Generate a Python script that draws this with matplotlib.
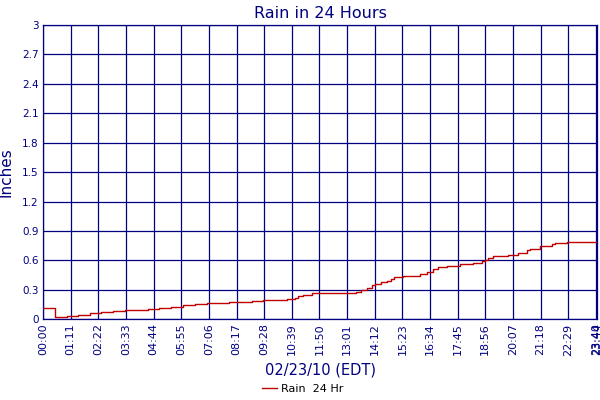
import matplotlib
matplotlib.use('Agg')
import matplotlib.pyplot as plt

# rain accumulation steps: minutes after midnight, inches
step_minutes = [0, 32, 62, 90, 120, 150, 180, 210, 270, 298, 328, 359, 390, 420,
                478, 538, 565, 627, 638, 647, 655, 668, 690, 805, 818, 831, 844,
                852, 867, 883, 893, 901, 925, 968, 985, 1002, 1015, 1037, 1071,
                1105, 1127, 1135, 1144, 1157, 1195, 1221, 1242, 1251, 1276, 1307,
                1315, 1345, 1424]
rain_inches = [0.12, 0.02, 0.03, 0.04, 0.06, 0.07, 0.08, 0.09, 0.10, 0.12, 0.13,
               0.15, 0.16, 0.165, 0.175, 0.185, 0.195, 0.205, 0.21, 0.22, 0.24,
               0.25, 0.265, 0.28, 0.30, 0.32, 0.35, 0.36, 0.375, 0.39, 0.41, 0.43,
               0.44, 0.465, 0.485, 0.515, 0.53, 0.545, 0.56, 0.575, 0.59, 0.605,
               0.62, 0.645, 0.66, 0.68, 0.705, 0.72, 0.75, 0.765, 0.775, 0.785,
               0.785]

x_tick_minutes = [0, 71, 142, 213, 284, 355, 426, 497, 568, 639, 710, 781, 852,
                  923, 994, 1065, 1136, 1207, 1278, 1349, 1420, 1424]
x_tick_labels = ['00:00', '01:11', '02:22', '03:33', '04:44', '05:55', '07:06',
                 '08:17', '09:28', '10:39', '11:50', '13:01', '14:12', '15:23',
                 '16:34', '17:45', '18:56', '20:07', '21:18', '22:29', '23:40',
                 '23:44']
y_ticks = [0, 0.3, 0.6, 0.9, 1.2, 1.5, 1.8, 2.1, 2.4, 2.7, 3]
y_tick_labels = ['0', '0.3', '0.6', '0.9', '1.2', '1.5', '1.8', '2.1', '2.4', '2.7', '3']

navy = '#000080'
red = '#c00000'

fig = plt.figure(figsize=(6, 4), dpi=100)
ax = fig.add_axes([0.0717, 0.2018, 0.924, 0.7358])

line, = ax.step(step_minutes, rain_inches, where='post', color=red, linewidth=1.0,
                label='Rain  24 Hr', zorder=3)

ax.set_xlim(0, 1424)
ax.set_ylim(0, 3)
ax.set_xticks(x_tick_minutes)
ax.set_xticklabels(x_tick_labels, rotation=90, fontsize=8, color=navy)
ax.set_yticks(y_ticks)
ax.set_yticklabels(y_tick_labels, fontsize=7.5, color=navy)
ax.tick_params(length=0, pad=3)
ax.grid(True, color=navy, linewidth=0.9)
for s in ax.spines.values():
    s.set_color(navy)
    s.set_linewidth(0.9)

ax.set_title('Rain in 24 Hours', fontsize=11.5, color=navy, pad=5)
ax.set_ylabel('Inches', fontsize=11, color=navy, labelpad=6)
ax.set_xlabel('02/23/10 (EDT)', fontsize=10.5, color=navy, labelpad=5)

fig.legend(handles=[line], loc='lower center', bbox_to_anchor=(0.505, -0.01),
           frameon=False, fontsize=8, handlelength=1.3, handletextpad=0.4)

fig.savefig('out.png', dpi=100)
